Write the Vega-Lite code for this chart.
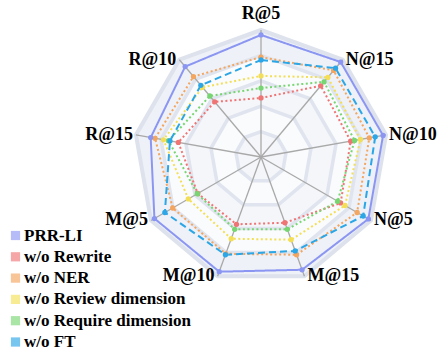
{
  "$schema": "https://vega.github.io/schema/vega-lite/v6.json",
  "width": 438,
  "height": 350,
  "autosize": {"type": "none"},
  "padding": 0,
  "config": {"view": {"stroke": null}},
  "datasets": {
    "axes": [
      {"metric": "R@5"}, {"metric": "N@15"}, {"metric": "N@10"}, {"metric": "N@5"}, {"metric": "M@15"},
      {"metric": "M@10"}, {"metric": "M@5"}, {"metric": "R@15"}, {"metric": "R@10"}
    ],
    "scores": [
      {"model": "w/o Rewrite", "metric": "R@5", "value": 0.465},
      {"model": "w/o Rewrite", "metric": "N@15", "value": 0.732},
      {"model": "w/o Rewrite", "metric": "N@10", "value": 0.717},
      {"model": "w/o Rewrite", "metric": "N@5", "value": 0.724},
      {"model": "w/o Rewrite", "metric": "M@15", "value": 0.551},
      {"model": "w/o Rewrite", "metric": "M@10", "value": 0.564},
      {"model": "w/o Rewrite", "metric": "M@5", "value": 0.575},
      {"model": "w/o Rewrite", "metric": "R@15", "value": 0.661},
      {"model": "w/o Rewrite", "metric": "R@10", "value": 0.567},
      {"model": "w/o Require dimension", "metric": "R@5", "value": 0.543},
      {"model": "w/o Require dimension", "metric": "N@15", "value": 0.772},
      {"model": "w/o Require dimension", "metric": "N@10", "value": 0.748},
      {"model": "w/o Require dimension", "metric": "N@5", "value": 0.697},
      {"model": "w/o Require dimension", "metric": "M@15", "value": 0.606},
      {"model": "w/o Require dimension", "metric": "M@10", "value": 0.606},
      {"model": "w/o Require dimension", "metric": "M@5", "value": 0.579},
      {"model": "w/o Require dimension", "metric": "R@15", "value": 0.74},
      {"model": "w/o Require dimension", "metric": "R@10", "value": 0.627},
      {"model": "w/o Review dimension", "metric": "R@5", "value": 0.638},
      {"model": "w/o Review dimension", "metric": "N@15", "value": 0.819},
      {"model": "w/o Review dimension", "metric": "N@10", "value": 0.795},
      {"model": "w/o Review dimension", "metric": "N@5", "value": 0.764},
      {"model": "w/o Review dimension", "metric": "M@15", "value": 0.693},
      {"model": "w/o Review dimension", "metric": "M@10", "value": 0.685},
      {"model": "w/o Review dimension", "metric": "M@5", "value": 0.661},
      {"model": "w/o Review dimension", "metric": "R@15", "value": 0.78},
      {"model": "w/o Review dimension", "metric": "R@10", "value": 0.717},
      {"model": "w/o NER", "metric": "R@5", "value": 0.787},
      {"model": "w/o NER", "metric": "N@15", "value": 0.89},
      {"model": "w/o NER", "metric": "N@10", "value": 0.866},
      {"model": "w/o NER", "metric": "N@5", "value": 0.874},
      {"model": "w/o NER", "metric": "M@15", "value": 0.819},
      {"model": "w/o NER", "metric": "M@10", "value": 0.811},
      {"model": "w/o NER", "metric": "M@5", "value": 0.803},
      {"model": "w/o NER", "metric": "R@15", "value": 0.847},
      {"model": "w/o NER", "metric": "R@10", "value": 0.827},
      {"model": "w/o FT", "metric": "R@5", "value": 0.764},
      {"model": "w/o FT", "metric": "N@15", "value": 0.913},
      {"model": "w/o FT", "metric": "N@10", "value": 0.913},
      {"model": "w/o FT", "metric": "N@5", "value": 0.929},
      {"model": "w/o FT", "metric": "M@15", "value": 0.787},
      {"model": "w/o FT", "metric": "M@10", "value": 0.819},
      {"model": "w/o FT", "metric": "M@5", "value": 0.874},
      {"model": "w/o FT", "metric": "R@15", "value": 0.728},
      {"model": "w/o FT", "metric": "R@10", "value": 0.737},
      {"model": "PRR-LI", "metric": "R@5", "value": 0.961},
      {"model": "PRR-LI", "metric": "N@15", "value": 0.976},
      {"model": "PRR-LI", "metric": "N@10", "value": 0.976},
      {"model": "PRR-LI", "metric": "N@5", "value": 0.976},
      {"model": "PRR-LI", "metric": "M@15", "value": 0.945},
      {"model": "PRR-LI", "metric": "M@10", "value": 0.961},
      {"model": "PRR-LI", "metric": "M@5", "value": 0.969},
      {"model": "PRR-LI", "metric": "R@15", "value": 0.882},
      {"model": "PRR-LI", "metric": "R@10", "value": 0.929}
    ]
  },
  "layer": [
    {
      "data": {"name": "axes"},
      "transform": [
        {"calculate": "indexof(['R@5','N@15','N@10','N@5','M@15','M@10','M@5','R@15','R@10'], datum.metric)", "as": "idx"},
        {"calculate": "datum.idx * 2 * PI / 9", "as": "ang"}
      ],
      "layer": [
        {
          "transform": [{"calculate": "1.0 * sin(datum.ang)", "as": "gx"}, {"calculate": "1.0 * cos(datum.ang)", "as": "gy"}],
          "mark": {"type": "line", "interpolate": "linear-closed", "fill": "#eef1f7", "stroke": "#dde2ec", "strokeWidth": 4},
          "encoding": {
            "x": {"field": "gx", "type": "quantitative", "scale": {"domain": [-2.05512, 1.3937], "nice": false, "zero": false}, "axis": null},
            "y": {"field": "gy", "type": "quantitative", "scale": {"domain": [-1.51969, 1.23622], "nice": false, "zero": false}, "axis": null},
            "order": {"field": "idx", "type": "quantitative"}
          }
        },
        {
          "transform": [{"calculate": "0.8 * sin(datum.ang)", "as": "gx"}, {"calculate": "0.8 * cos(datum.ang)", "as": "gy"}],
          "mark": {"type": "line", "interpolate": "linear-closed", "fill": "#fafbfd", "stroke": "#dfe4ee", "strokeWidth": 3.5},
          "encoding": {
            "x": {"field": "gx", "type": "quantitative", "scale": {"domain": [-2.05512, 1.3937], "nice": false, "zero": false}, "axis": null},
            "y": {"field": "gy", "type": "quantitative", "scale": {"domain": [-1.51969, 1.23622], "nice": false, "zero": false}, "axis": null},
            "order": {"field": "idx", "type": "quantitative"}
          }
        },
        {
          "transform": [{"calculate": "0.6 * sin(datum.ang)", "as": "gx"}, {"calculate": "0.6 * cos(datum.ang)", "as": "gy"}],
          "mark": {"type": "line", "interpolate": "linear-closed", "fill": "#f5f6fa", "stroke": "#dfe4ee", "strokeWidth": 3.5},
          "encoding": {
            "x": {"field": "gx", "type": "quantitative", "scale": {"domain": [-2.05512, 1.3937], "nice": false, "zero": false}, "axis": null},
            "y": {"field": "gy", "type": "quantitative", "scale": {"domain": [-1.51969, 1.23622], "nice": false, "zero": false}, "axis": null},
            "order": {"field": "idx", "type": "quantitative"}
          }
        },
        {
          "transform": [{"calculate": "0.4 * sin(datum.ang)", "as": "gx"}, {"calculate": "0.4 * cos(datum.ang)", "as": "gy"}],
          "mark": {"type": "line", "interpolate": "linear-closed", "fill": "#fafbfd", "stroke": "#dfe4ee", "strokeWidth": 3.5},
          "encoding": {
            "x": {"field": "gx", "type": "quantitative", "scale": {"domain": [-2.05512, 1.3937], "nice": false, "zero": false}, "axis": null},
            "y": {"field": "gy", "type": "quantitative", "scale": {"domain": [-1.51969, 1.23622], "nice": false, "zero": false}, "axis": null},
            "order": {"field": "idx", "type": "quantitative"}
          }
        },
        {
          "transform": [{"calculate": "0.2 * sin(datum.ang)", "as": "gx"}, {"calculate": "0.2 * cos(datum.ang)", "as": "gy"}],
          "mark": {"type": "line", "interpolate": "linear-closed", "fill": "#f5f6fa", "stroke": "#dfe4ee", "strokeWidth": 3.5},
          "encoding": {
            "x": {"field": "gx", "type": "quantitative", "scale": {"domain": [-2.05512, 1.3937], "nice": false, "zero": false}, "axis": null},
            "y": {"field": "gy", "type": "quantitative", "scale": {"domain": [-1.51969, 1.23622], "nice": false, "zero": false}, "axis": null},
            "order": {"field": "idx", "type": "quantitative"}
          }
        },
        {
          "transform": [{"calculate": "sin(datum.ang)", "as": "sx"}, {"calculate": "cos(datum.ang)", "as": "sy"}],
          "mark": {"type": "rule", "color": "#a9a9a9", "strokeWidth": 1.3},
          "encoding": {
            "x": {"field": "sx", "type": "quantitative", "scale": {"domain": [-2.05512, 1.3937], "nice": false, "zero": false}, "axis": null},
            "y": {"field": "sy", "type": "quantitative", "scale": {"domain": [-1.51969, 1.23622], "nice": false, "zero": false}, "axis": null},
            "x2": {"datum": 0},
            "y2": {"datum": 0}
          }
        },
        {
          "transform": [{"filter": "datum.idx >= 1 && datum.idx <= 4"}, {"calculate": "sin(datum.ang)", "as": "lx"}, {"calculate": "cos(datum.ang)", "as": "ly"}],
          "mark": {"type": "text", "font": "Liberation Serif", "fontWeight": "bold", "fontSize": 18, "align": "left", "baseline": "middle", "dx": 3, "color": "#000000"},
          "encoding": {
            "x": {"field": "lx", "type": "quantitative", "scale": {"domain": [-2.05512, 1.3937], "nice": false, "zero": false}, "axis": null},
            "y": {"field": "ly", "type": "quantitative", "scale": {"domain": [-1.51969, 1.23622], "nice": false, "zero": false}, "axis": null},
            "text": {"field": "metric"}
          }
        },
        {
          "transform": [{"filter": "datum.idx >= 5"}, {"calculate": "sin(datum.ang)", "as": "lx"}, {"calculate": "cos(datum.ang)", "as": "ly"}],
          "mark": {"type": "text", "font": "Liberation Serif", "fontWeight": "bold", "fontSize": 18, "align": "right", "baseline": "middle", "dx": -3, "color": "#000000"},
          "encoding": {
            "x": {"field": "lx", "type": "quantitative", "scale": {"domain": [-2.05512, 1.3937], "nice": false, "zero": false}, "axis": null},
            "y": {"field": "ly", "type": "quantitative", "scale": {"domain": [-1.51969, 1.23622], "nice": false, "zero": false}, "axis": null},
            "text": {"field": "metric"}
          }
        },
        {
          "transform": [{"filter": "datum.idx == 0"}, {"calculate": "sin(datum.ang)", "as": "lx"}, {"calculate": "cos(datum.ang)", "as": "ly"}],
          "mark": {"type": "text", "font": "Liberation Serif", "fontWeight": "bold", "fontSize": 18, "align": "center", "baseline": "middle", "dy": -16, "color": "#000000"},
          "encoding": {
            "x": {"field": "lx", "type": "quantitative", "scale": {"domain": [-2.05512, 1.3937], "nice": false, "zero": false}, "axis": null},
            "y": {"field": "ly", "type": "quantitative", "scale": {"domain": [-1.51969, 1.23622], "nice": false, "zero": false}, "axis": null},
            "text": {"field": "metric"}
          }
        }
      ]
    },
    {
      "data": {"name": "scores"},
      "transform": [
        {"calculate": "indexof(['R@5','N@15','N@10','N@5','M@15','M@10','M@5','R@15','R@10'], datum.metric)", "as": "idx"},
        {"calculate": "datum.idx * 2 * PI / 9", "as": "ang"},
        {"calculate": "datum.value * sin(datum.ang)", "as": "px"},
        {"calculate": "datum.value * cos(datum.ang)", "as": "py"}
      ],
      "layer": [
        {
          "mark": {"type": "line", "interpolate": "linear-closed", "strokeWidth": 2},
          "encoding": {
            "x": {"field": "px", "type": "quantitative", "scale": {"domain": [-2.05512, 1.3937], "nice": false, "zero": false}, "axis": null},
            "y": {"field": "py", "type": "quantitative", "scale": {"domain": [-1.51969, 1.23622], "nice": false, "zero": false}, "axis": null},
            "order": {"field": "idx", "type": "quantitative"},
            "stroke": {
              "field": "model", "type": "nominal",
              "scale": {
                "domain": ["PRR-LI", "w/o Rewrite", "w/o NER", "w/o Review dimension", "w/o Require dimension", "w/o FT"],
                "range": ["#8b96f2", "#ef7474", "#f4a55e", "#f3df57", "#78d672", "#2ba6e6"]
              },
              "legend": {
                "title": null, "orient": "none", "legendX": 7, "legendY": 227, "padding": 0,
                "symbolType": "square", "symbolSize": 85, "symbolOpacity": 0.8, "symbolStrokeWidth": 0,
                "symbolDash": [1, 0],
                "labelFont": "Liberation Serif", "labelFontWeight": "bold", "labelFontSize": 17, "labelColor": "#000000",
                "labelOffset": 0, "rowPadding": 3.3, "labelLimit": 400,
                "encode": {
                  "symbols": {
                    "update": {
                      "fill": {"scale": "stroke", "field": "value"},
                      "fillOpacity": {"value": 0.8},
                      "strokeWidth": {"value": 0},
                      "strokeDash": {"value": [1, 0]}
                    }
                  }
                }
              }
            },
            "strokeDash": {
              "field": "model", "type": "nominal", "legend": null,
              "scale": {
                "domain": ["PRR-LI", "w/o Rewrite", "w/o NER", "w/o Review dimension", "w/o Require dimension", "w/o FT"],
                "range": [[1, 0], [2, 2.5], [2, 2.5], [2, 2.5], [2, 2.5], [7, 4]]
              }
            }
          }
        },
        {
          "mark": {"type": "point", "filled": true, "size": 28, "opacity": 1},
          "encoding": {
            "x": {"field": "px", "type": "quantitative", "scale": {"domain": [-2.05512, 1.3937], "nice": false, "zero": false}, "axis": null},
            "y": {"field": "py", "type": "quantitative", "scale": {"domain": [-1.51969, 1.23622], "nice": false, "zero": false}, "axis": null},
            "fill": {
              "field": "model", "type": "nominal", "legend": null,
              "scale": {
                "domain": ["PRR-LI", "w/o Rewrite", "w/o NER", "w/o Review dimension", "w/o Require dimension", "w/o FT"],
                "range": ["#8b96f2", "#ef7474", "#f4a55e", "#f3df57", "#78d672", "#2ba6e6"]
              }
            }
          }
        }
      ]
    }
  ]
}
